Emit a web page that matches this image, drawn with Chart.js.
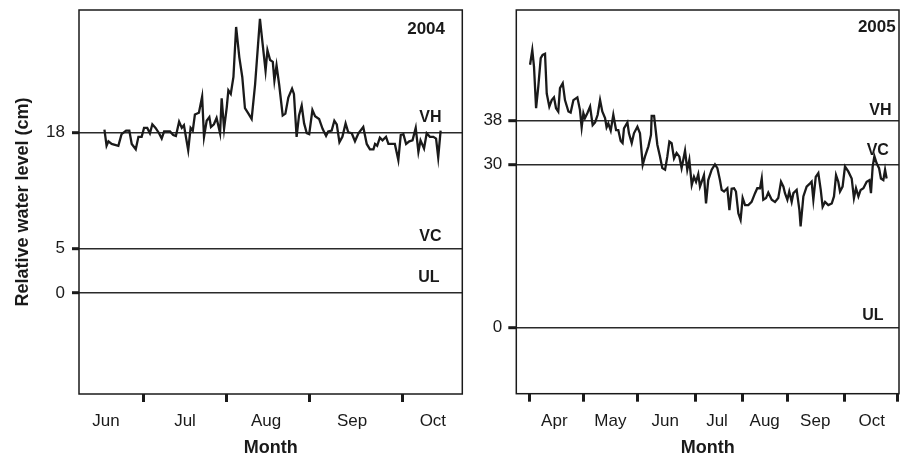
<!DOCTYPE html>
<html>
<head>
<meta charset="utf-8">
<script src="https://cdn.jsdelivr.net/npm/chart.js@4.4.1/dist/chart.umd.min.js"></script>
<style>
  html, body { margin: 0; padding: 0; background: #fff; }
  #wrap { position: relative; width: 900px; height: 455px; overflow: hidden; }
  canvas { position: absolute; top: 0; }
</style>
</head>
<body>
<div id="wrap">
  <canvas id="c2004" width="470" height="455" style="left:0"></canvas>
  <canvas id="c2005" width="430" height="455" style="left:470px"></canvas>
</div>
<script>
// ---------- DATA ----------
// x = day along each season's axis, y = relative water level (cm)
const days2004 = [9.5,10.3,11.0,12.2,14.7,15.9,17.6,18.8,19.7,21.2,
  22.2,23.4,24.3,25.5,26.5,27.4,28.6,29.9,30.9,31.8,
  34.0,35.2,36.2,37.4,38.4,39.2,40.8,41.7,42.5,43.3,
  44.8,46.0,46.7,47.7,48.7,49.3,50.4,51.4,52.7,53.3,
  54.2,55.2,55.8,56.7,57.7,58.7,59.9,61.0,62.0,63.3,
  64.5,65.8,67.6,68.6,69.7,70.4,71.4,72.4,73.0,73.8,
  74.8,76.1,77.1,78.2,79.6,80.3,81.3,82.2,83.2,84.1,
  85.1,86.0,87.2,88.2,89.7,91.0,92.3,93.1,94.4,95.4,
  96.3,97.3,98.4,99.6,100.6,101.9,103.1,104.4,106.2,107.5,
  108.7,110.0,110.6,111.4,112.4,113.4,114.7,115.6,116.8,118.0,
  119.3,120.2,121.2,122.2,123.4,124.6,125.8,126.8,127.6,128.9,
  129.9,131.1,132.4,133.4,134.2,135.1];
const level2004 = [18.3,16.5,17.0,16.7,16.5,17.8,18.2,18.2,16.7,16.1,
  17.5,17.5,18.5,18.5,17.9,18.9,18.5,17.9,17.3,18.1,
  18.1,17.7,17.6,19.2,18.5,18.8,16.0,18.5,18.2,20.0,
  20.2,22.0,17.5,19.3,19.7,18.6,18.9,19.6,17.9,21.8,
  18.4,20.8,22.7,22.3,24.2,29.8,26.4,24.2,20.7,20.1,
  19.5,23.4,30.7,27.9,24.9,27.2,26.1,25.9,23.8,25.5,
  23.3,19.9,20.1,21.9,22.9,22.3,17.5,19.9,21.0,19.0,
  17.9,17.8,20.5,19.8,19.5,18.4,17.6,18.1,18.2,19.3,
  18.9,16.9,17.5,19.0,18.0,17.9,17.0,17.9,18.6,16.7,
  16.1,16.1,16.7,16.5,17.4,17.1,17.5,16.7,16.7,16.7,
  14.9,17.7,17.8,16.7,17.0,17.1,18.5,15.8,17.1,16.2,
  17.9,17.5,17.5,17.3,15.2,18.2];

const days2005 = [8.0,9.3,10.3,11.5,12.8,14.2,15.3,16.7,17.7,19.2,
  20.6,21.9,23.1,24.4,25.4,27.0,28.3,30.3,31.6,33.2,
  35.5,37.0,38.0,39.0,39.9,41.3,42.9,44.4,45.8,47.3,
  48.7,50.0,51.6,52.5,53.5,54.9,56.4,58.0,59.3,60.7,
  61.8,62.6,64.6,65.5,67.1,68.4,70.4,71.9,73.5,74.8,
  76.8,78.3,78.7,80.1,82.0,83.5,84.9,86.5,87.8,89.0,
  90.3,91.7,93.2,94.8,96.1,98.1,99.4,100.6,102.0,103.3,
  104.5,105.8,106.8,107.8,109.1,110.3,111.6,113.6,115.5,116.9,
  118.4,119.4,120.8,122.7,123.9,125.2,126.6,127.7,129.1,130.4,
  131.6,133.0,134.9,136.8,138.8,140.1,141.7,142.7,143.6,145.2,
  146.5,148.5,150.4,152.3,153.9,155.3,156.2,157.6,158.7,160.1,
  161.1,163.0,164.6,165.3,166.9,168.8,170.8,171.7,172.7,174.1,
  175.6,177.0,178.1,179.5,181.4,183.4,184.7,185.9,187.2,188.2,
  189.7,191.1,193.0,195.0,196.3,197.5,198.9,200.2,201.8,203.7,
  205.3,206.2,207.2,208.2,209.5,210.9,212.0,213.4,214.4,215.3];
const level2005 = [48.3,51.0,47.9,40.3,44.3,49.5,50.1,50.3,43.0,40.6,
  41.8,42.3,40.3,39.7,44.0,44.9,41.8,39.7,39.5,41.8,
  42.3,40.0,36.8,39.4,38.5,39.4,40.6,37.2,37.7,39.1,
  41.8,39.7,38.5,36.8,37.5,36.2,39.1,36.3,36.3,34.3,
  33.9,36.6,37.7,35.7,33.9,35.7,36.9,35.7,29.9,31.4,
  33.3,35.4,38.9,38.9,33.6,31.5,29.3,29.0,31.4,34.2,
  33.9,31.1,32.1,31.4,29.3,32.5,29.0,30.8,26.2,27.7,
  26.8,28.2,25.9,26.8,28.0,22.8,27.1,29.0,30.0,29.3,
  27.1,25.3,25.0,25.6,21.6,25.5,25.6,25.0,21.0,19.8,
  23.8,22.5,22.5,23.1,24.7,25.6,25.6,27.4,23.5,23.8,
  24.8,23.5,23.1,23.8,26.8,25.9,24.7,23.5,25.0,23.1,
  24.7,25.3,21.6,18.6,24.1,25.9,26.5,26.8,23.5,27.7,
  28.4,25.3,22.2,23.1,22.5,22.8,24.1,28.0,26.8,25.0,
  25.9,29.6,28.7,27.4,23.8,25.6,24.1,25.3,25.6,26.8,
  27.1,24.7,29.6,31.5,30.2,29.3,27.4,27.1,29.0,27.4];

// reference levels (y ticks) and their names
const refLevels2004 = [0, 5, 18];
const refNames2004  = ['UL', 'VC', 'VH'];
const refLevels2005 = [0, 30, 38];
const refNames2005  = ['UL', 'VC', 'VH'];

// month axis: boundaries (tick marks) and label positions
const monthEdges2004 = [24.0, 55.0, 86.0, 120.8];
const monthMid2004   = [10.1, 39.6, 69.9, 102.0, 132.2];
const monthNames2004 = ['Jun', 'Jul', 'Aug', 'Sep', 'Oct'];
const monthEdges2005 = [7.6, 39.0, 70.3, 104.1, 131.4, 157.6, 190.7, 221.5];
const monthMid2005   = [22.1, 54.7, 86.6, 116.7, 144.4, 173.8, 206.6];
const monthNames2005 = ['Apr', 'May', 'Jun', 'Jul', 'Aug', 'Sep', 'Oct'];

// ---------- RENDERING ----------
const INK = '#1a1a1a';
const FONT = '"Liberation Sans", Arial, Helvetica, sans-serif';

const decor = {
  id: 'decor',
  afterDraw(chart, args, o) {
    const {ctx, chartArea: a, scales} = chart;
    ctx.save();
    ctx.strokeStyle = INK;
    ctx.lineWidth = 1.5;
    ctx.strokeRect(a.left, a.top, a.right - a.left, a.bottom - a.top);
    ctx.fillStyle = INK;
    ctx.textBaseline = 'middle';
    ctx.textAlign = 'right';
    ctx.font = 'bold 17px ' + FONT;
    ctx.fillText(o.year, a.right + o.yearDx, a.top + o.yearDy);
    ctx.textAlign = 'left';
    ctx.font = 'bold 16px ' + FONT;
    o.names.forEach((n, i) => {
      const y = scales.y.getPixelForValue(o.levels[i]);
      ctx.fillText(n, a.right + o.dx[i], y + o.dy[i]);
    });
    ctx.restore();
  }
};

function noPad(s) {
  s.paddingTop = 0; s.paddingBottom = 0; s.paddingLeft = 0; s.paddingRight = 0;
}

function makeChart(id, cfg) {
  const points = cfg.days.map((d, i) => ({x: d, y: cfg.levels[i]}));
  const xTicks = cfg.edges.concat(cfg.mids).sort((a, b) => a - b);
  const labelOf = v => {
    const k = cfg.mids.indexOf(v);
    return k >= 0 ? cfg.names[k] : '';
  };
  const isEdge = v => cfg.edges.indexOf(v) >= 0;
  return new Chart(document.getElementById(id), {
    type: 'line',
    data: { datasets: [{
      data: points,
      borderColor: INK,
      borderWidth: 2.3,
      pointRadius: 0,
      tension: 0,
      fill: false
    }]},
    options: {
      responsive: false,
      devicePixelRatio: 1,
      animation: false,
      events: [],
      layout: { padding: cfg.padding, autoPadding: false },
      plugins: {
        legend: { display: false },
        tooltip: { enabled: false },
        decor: cfg.decor
      },
      scales: {
        x: {
          type: 'linear',
          min: cfg.xMin, max: cfg.xMax,
          afterBuildTicks: s => { s.ticks = xTicks.map(v => ({value: v})); },
          afterFit: s => { s.height = cfg.xHeight; noPad(s); },
          border: { display: false },
          grid: {
            display: true, drawOnChartArea: false, drawTicks: true,
            tickLength: 8, tickWidth: 3,
            tickColor: c => (c.tick && isEdge(c.tick.value)) ? INK : 'rgba(0,0,0,0)'
          },
          ticks: {
            autoSkip: false, maxRotation: 0, minRotation: 0,
            padding: 9,
            color: INK,
            font: { family: FONT, size: 17 },
            callback: v => labelOf(v)
          },
          title: {
            display: true, text: 'Month', color: INK,
            font: { family: FONT, size: 18, weight: 'bold', lineHeight: 0.8 },
            padding: { top: 0, bottom: 0 }
          }
        },
        y: {
          type: 'linear',
          min: cfg.yMin, max: cfg.yMax,
          afterBuildTicks: s => { s.ticks = cfg.refLevels.map(v => ({value: v})); },
          afterFit: s => { s.width = cfg.yWidth; noPad(s); },
          border: { display: false },
          grid: {
            display: true, drawOnChartArea: true, drawTicks: true,
            color: '#2a2a2a', lineWidth: 1.4,
            tickLength: cfg.yTickLen, tickWidth: 3, tickColor: INK
          },
          ticks: {
            padding: cfg.yPad, color: INK,
            font: { family: FONT, size: 17 },
            callback: v => String(v)
          },
          title: {
            display: !!cfg.yTitle, text: cfg.yTitle || '', color: INK,
            font: { family: FONT, size: 18, weight: 'bold', lineHeight: 1.2 },
            padding: { top: 11.8, bottom: 0 }
          }
        }
      }
    },
    plugins: [decor]
  });
}

makeChart('c2004', {
  days: days2004, levels: level2004,
  edges: monthEdges2004, mids: monthMid2004, names: monthNames2004,
  refLevels: refLevels2004,
  xMin: 0, xMax: 143.2, yMin: -11.3, yMax: 31.7,
  padding: { top: 10, right: 7.7, bottom: 0, left: 0 },
  xHeight: 61, yWidth: 79, yTickLen: 7, yPad: 7,
  yTitle: 'Relative water level (cm)',
  decor: { year: '2004', yearDx: -17.3, yearDy: 19.5,
           names: refNames2004, levels: refLevels2004,
           dx: [-44, -43, -43], dy: [-15, -12, -14.5] }
});

makeChart('c2005', {
  days: days2005, levels: level2005,
  edges: monthEdges2005, mids: monthMid2005, names: monthNames2005,
  refLevels: refLevels2005,
  xMin: 0, xMax: 222.5, yMin: -12.14, yMax: 58.35,
  padding: { top: 10, right: 1, bottom: 0, left: 0 },
  xHeight: 61.3, yWidth: 46.3, yTickLen: 8, yPad: 6,
  yTitle: '',
  decor: { year: '2005', yearDx: -3.3, yearDy: 17.5,
           names: refNames2005, levels: refLevels2005,
           dx: [-36.7, -32.3, -29.7], dy: [-12, -14.2, -10]}
});
</script>
</body>
</html>
